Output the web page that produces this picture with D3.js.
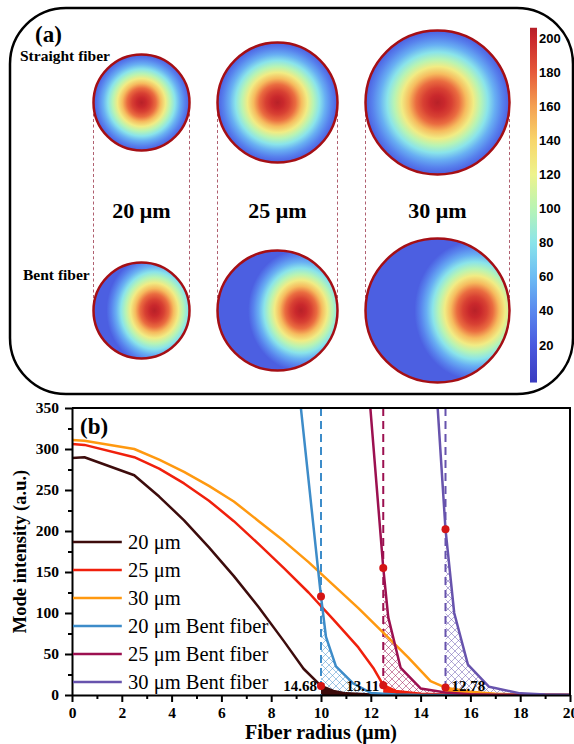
<!DOCTYPE html>
<html>
<head>
<meta charset="utf-8">
<script src="https://cdn.jsdelivr.net/npm/d3@7"></script>
<style>
  body { margin: 0; background: #fff; }
  svg { display: block; }
</style>
</head>
<body>
<div id="chart"></div>
<script>
// ---------- panel (a) data ----------
const fiberSizes = [20, 25, 30];
const sizeLabels = ["20 μm", "25 μm", "30 μm"];
// shift of the mode peak in the bent fiber (fraction of core radius)
const bentShift = [0.27, 0.39, 0.52];
// width of the bent mode relative to the core radius
const bentWidth = [1.0, 0.88, 0.84];
// mode intensity from core centre (0) to core edge (1), step 0.1
const modeProfile = [205, 200, 190, 175, 150, 125, 100, 80, 55, 38, 22];

// colour bar
const cbTicks = [20, 40, 60, 80, 100, 120, 140, 160, 180, 200];
const cbStops = [-2, 20, 40, 60, 80, 100, 120, 140, 160, 180, 200, 206];
const cbColors = ["#3b3cc0", "#4a5adf", "#5a88ee", "#6cbcf4", "#8ae4ea", "#b8f4b4",
                  "#eef38c", "#f8d66a", "#f4a052", "#e65a3a", "#c9282c", "#b51f27"];

// ---------- panel (b) data ----------
const r20x = [0, 0.5, 2.5, 3.5, 4.5, 5.5, 6.5, 7.5, 8.5, 9.3, 10, 10.5, 11, 12, 14, 20];
const r20y = [289, 290, 268, 242, 213, 180, 145, 107, 66, 32, 11, 5, 2, 0.5, 0, 0];
const r25x = [0, 0.5, 2.5, 3.5, 4.5, 5.5, 6.5, 7.5, 8.5, 9.5, 10.5, 11.5, 12.1, 12.5, 13, 14, 15, 20];
const r25y = [306, 305, 290, 276, 258, 237, 212, 184, 155, 125, 92, 58, 33, 12, 5, 1.5, 0.5, 0];
const r30x = [0, 0.5, 2.5, 3.5, 4.5, 5.5, 6.5, 7.5, 8.5, 9.5, 10.5, 11.5, 12.5, 13.5, 14.4, 15, 16, 17, 18, 20];
const r30y = [311, 310, 300, 287, 272, 255, 236, 212, 188, 162, 134, 106, 76, 46, 17, 9, 4, 1.5, 0.5, 0];
const b20x = [9.15, 9.9, 10, 10.2, 10.6, 11.3, 12, 13, 14, 20];
const b20y = [362, 148, 120, 71, 35, 14, 2.5, 0.5, 0, 0];
const b25x = [11.95, 12.5, 12.7, 13.2, 14, 15, 16, 17, 20];
const b25y = [362, 155, 95, 33, 8, 3, 1, 0.3, 0];
const b30x = [14.66, 15, 15.35, 15.9, 16.75, 18, 19, 20];
const b30y = [362, 202, 100, 37, 10, 2, 0.5, 0];

const seriesNames = ["20 μm", "25 μm", "30 μm", "20 μm Bent fiber", "25 μm Bent fiber", "30 μm Bent fiber"];
const seriesColors = ["#3d0c0c", "#f0200c", "#ff9910", "#3d8cc9", "#9c1050", "#6753ad"];
const cutRadius = [10, 12.5, 15];
const leakLabels = ["14.68", "13.11", "12.78"];

const zip = (xs, ys) => xs.map((v, i) => ({x: v, y: ys[i]}));
const straight = [zip(r20x, r20y), zip(r25x, r25y), zip(r30x, r30y)];
const bent = [zip(b20x, b20y), zip(b25x, b25y), zip(b30x, b30y)];

const width = 574, height = 744;
const serif = "'Liberation Serif', 'Times New Roman', serif";

const svg = d3.select("#chart").append("svg")
  .attr("width", width).attr("height", height);
const defs = svg.append("defs");

const colormap = d3.scaleLinear().domain(cbStops).range(cbColors).clamp(true);

// ===================== panel (a) =====================
svg.append("rect")
  .attr("x", 10).attr("y", 8).attr("width", 563).attr("height", 386)
  .attr("rx", 56).attr("ry", 56)
  .attr("fill", "none").attr("stroke", "#000").attr("stroke-width", 2.5);

const rScale = d3.scaleLinear().domain([0, 30]).range([0, 72]);
const gap = 28;
let cursor = 93.5;
const centers = fiberSizes.map(d => {
  const r = rScale(d);
  const c = cursor + r;
  cursor = c + r + gap;
  return c;
});
const yTop = 102.5, yBot = 310.5;

// dashed connectors
fiberSizes.forEach((d, i) => {
  const r = rScale(d);
  [centers[i] - r, centers[i] + r].forEach(xx => {
    svg.append("line")
      .attr("x1", xx).attr("x2", xx).attr("y1", yTop).attr("y2", yBot)
      .attr("stroke", "#b06070").attr("stroke-width", 1)
      .attr("stroke-dasharray", "3,2.5");
  });
});

fiberSizes.forEach((d, i) => {
  const r = rScale(d);
  const cx = centers[i];
  // straight fiber
  const gs = defs.append("radialGradient").attr("id", "gs" + i)
    .attr("cx", "50%").attr("cy", "50%").attr("r", "50%");
  modeProfile.forEach((v, k) => {
    gs.append("stop").attr("offset", k / (modeProfile.length - 1)).attr("stop-color", colormap(v));
  });
  svg.append("circle").attr("cx", cx).attr("cy", yTop).attr("r", r)
    .attr("fill", `url(#gs${i})`).attr("stroke", "#a50f15").attr("stroke-width", 2.5);

  // bent fiber
  const px = cx + bentShift[i] * r;
  const gb = defs.append("radialGradient").attr("id", "gb" + i)
    .attr("gradientUnits", "userSpaceOnUse")
    .attr("cx", px).attr("cy", yBot).attr("r", bentWidth[i] * r)
    .attr("gradientTransform", `translate(${px},${yBot}) scale(1,1.15) translate(${-px},${-yBot})`);
  modeProfile.forEach((v, k) => {
    gb.append("stop").attr("offset", k / (modeProfile.length - 1)).attr("stop-color", colormap(v));
  });
  svg.append("circle").attr("cx", cx).attr("cy", yBot).attr("r", r)
    .attr("fill", `url(#gb${i})`).attr("stroke", "#a50f15").attr("stroke-width", 2.5);

  svg.append("text").attr("x", cx).attr("y", 218)
    .attr("text-anchor", "middle")
    .style("font-family", serif).style("font-weight", "bold").style("font-size", "22px")
    .text(sizeLabels[i]);
});

svg.append("text").attr("x", 35).attr("y", 42)
  .style("font-family", serif).style("font-weight", "bold").style("font-size", "23px")
  .text("(a)");
svg.append("text").attr("x", 20).attr("y", 61)
  .style("font-family", serif).style("font-weight", "bold").style("font-size", "15.5px")
  .text("Straight fiber");
svg.append("text").attr("x", 23).attr("y", 280)
  .style("font-family", serif).style("font-weight", "bold").style("font-size", "15.5px")
  .text("Bent fiber");

// colour bar
const cbY = d3.scaleLinear().domain([20, 200]).range([345, 38]);
const cbGrad = defs.append("linearGradient").attr("id", "cbar")
  .attr("x1", 0).attr("x2", 0).attr("y1", 1).attr("y2", 0);
cbStops.forEach((v, k) => {
  cbGrad.append("stop")
    .attr("offset", (v - cbStops[0]) / (cbStops[cbStops.length - 1] - cbStops[0]))
    .attr("stop-color", cbColors[k]);
});
svg.append("rect")
  .attr("x", 530).attr("width", 7)
  .attr("y", cbY(cbStops[cbStops.length - 1]))
  .attr("height", cbY(cbStops[0]) - cbY(cbStops[cbStops.length - 1]))
  .attr("fill", "url(#cbar)");
svg.selectAll(".cbl").data(cbTicks).enter().append("text")
  .attr("class", "cbl")
  .attr("x", 539).attr("y", d => cbY(d)).attr("dy", "0.35em")
  .style("font-family", "'Liberation Sans', Arial, sans-serif")
  .style("font-weight", "bold").style("font-size", "13px")
  .text(d => d);

// ===================== panel (b) =====================
const margin = {top: 408, left: 72, right: 4, bottom: 49};
const xScale = d3.scaleLinear().domain([0, 20]).range([margin.left, width - margin.right]);
const yScale = d3.scaleLinear().domain([0, 350]).range([height - margin.bottom, margin.top]);

defs.append("clipPath").attr("id", "plotclip").append("rect")
  .attr("x", xScale(0)).attr("y", yScale(350))
  .attr("width", xScale(20) - xScale(0)).attr("height", yScale(0) - yScale(350));

// crosshatch patterns
seriesColors.slice(3).forEach((c, i) => {
  const p = defs.append("pattern").attr("id", "hatch" + i)
    .attr("patternUnits", "userSpaceOnUse").attr("width", 7).attr("height", 7);
  p.append("path").attr("d", "M0,0L7,7M7,0L0,7")
    .attr("stroke", c).attr("stroke-width", 0.9).attr("stroke-opacity", 0.55);
});

const plot = svg.append("g").attr("clip-path", "url(#plotclip)");

const line = d3.line().x(d => xScale(d.x)).y(d => yScale(d.y));
const area = d3.area().x(d => xScale(d.x)).y0(yScale(0)).y1(d => yScale(d.y));

// hatched leakage region under the bent curves
bent.forEach((s, i) => {
  plot.append("path")
    .datum(s.filter(d => d.x >= cutRadius[i]))
    .attr("d", area).attr("fill", `url(#hatch${i})`);
});
// solid leakage region under the straight curves
straight.forEach((s, i) => {
  plot.append("path")
    .datum(s.filter(d => d.x >= cutRadius[i]))
    .attr("d", area).attr("fill", seriesColors[i]);
});

// dashed core boundaries
cutRadius.forEach((r, i) => {
  plot.append("line")
    .attr("x1", xScale(r)).attr("x2", xScale(r))
    .attr("y1", yScale(350)).attr("y2", yScale(0))
    .attr("stroke", seriesColors[i + 3]).attr("stroke-width", 2)
    .attr("stroke-dasharray", "8,5");
});

straight.concat(bent).forEach((s, i) => {
  plot.append("path").datum(s).attr("d", line)
    .attr("fill", "none").attr("stroke", seriesColors[i]).attr("stroke-width", 2.5)
    .attr("stroke-linejoin", "round");
});

// red markers at the core boundary
cutRadius.forEach((r, i) => {
  [straight[i], bent[i]].forEach(s => {
    const pt = s.find(d => d.x === r);
    plot.append("circle").attr("cx", xScale(pt.x)).attr("cy", yScale(pt.y))
      .attr("r", 4).attr("fill", "#d41515");
  });
});

// leakage values
leakLabels.forEach((t, i) => {
  const right = i === 2;
  svg.append("text")
    .attr("x", xScale(cutRadius[i]) + (right ? 6 : -4))
    .attr("y", yScale(0) - 4)
    .attr("text-anchor", right ? "start" : "end")
    .style("font-family", serif).style("font-weight", "bold").style("font-size", "15px")
    .text(t);
});

// axes
svg.append("g").attr("class", "axis")
  .attr("transform", `translate(0,${yScale(0)})`)
  .call(d3.axisBottom(xScale).tickValues(d3.range(0, 21, 2)).tickSize(7).tickSizeOuter(0).tickPadding(5));
svg.append("g").attr("class", "axis minor")
  .attr("transform", `translate(0,${yScale(0)})`)
  .call(d3.axisBottom(xScale).tickValues(d3.range(1, 20, 2)).tickSize(4).tickFormat(""));
svg.append("g").attr("class", "axis")
  .attr("transform", `translate(${xScale(0)},0)`)
  .call(d3.axisLeft(yScale).tickValues(d3.range(0, 351, 50)).tickSize(7).tickSizeOuter(0).tickPadding(6));
svg.append("g").attr("class", "axis minor")
  .attr("transform", `translate(${xScale(0)},0)`)
  .call(d3.axisLeft(yScale).tickValues(d3.range(25, 350, 50)).tickSize(4).tickFormat(""));

svg.selectAll(".axis path, .axis line").attr("stroke", "#000").attr("stroke-width", 2);
svg.selectAll(".minor path").remove();
svg.selectAll(".axis text")
  .style("font-family", serif).style("font-weight", "bold").style("font-size", "15.5px")
  .attr("fill", "#000");

// frame top / right
svg.append("path")
  .attr("d", `M${xScale(0)},${yScale(350)}H${xScale(20)}V${yScale(0)}`)
  .attr("fill", "none").attr("stroke", "#000").attr("stroke-width", 2);

// axis labels
svg.append("text").attr("x", (xScale(0) + xScale(20)) / 2).attr("y", 739)
  .attr("text-anchor", "middle")
  .style("font-family", serif).style("font-weight", "bold").style("font-size", "20px")
  .text("Fiber radius (μm)");
svg.append("text").attr("transform", "rotate(-90)")
  .attr("x", -(yScale(0) + yScale(350)) / 2).attr("y", 26)
  .attr("text-anchor", "middle")
  .style("font-family", serif).style("font-weight", "bold").style("font-size", "18.5px")
  .text("Mode intensity (a.u.)");

svg.append("text").attr("x", 80).attr("y", 434)
  .style("font-family", serif).style("font-weight", "bold").style("font-size", "23px")
  .text("(b)");

// legend
const legY = d3.scaleLinear().domain([0, 5]).range([542, 682]);
seriesNames.forEach((n, i) => {
  svg.append("line")
    .attr("x1", xScale(0) + 1).attr("x2", xScale(2))
    .attr("y1", legY(i)).attr("y2", legY(i))
    .attr("stroke", seriesColors[i]).attr("stroke-width", 2.5);
  svg.append("text").attr("x", xScale(2.25)).attr("y", legY(i)).attr("dy", "0.33em")
    .style("font-family", serif).style("font-size", "20.5px")
    .text(n);
});
</script>
</body>
</html>
